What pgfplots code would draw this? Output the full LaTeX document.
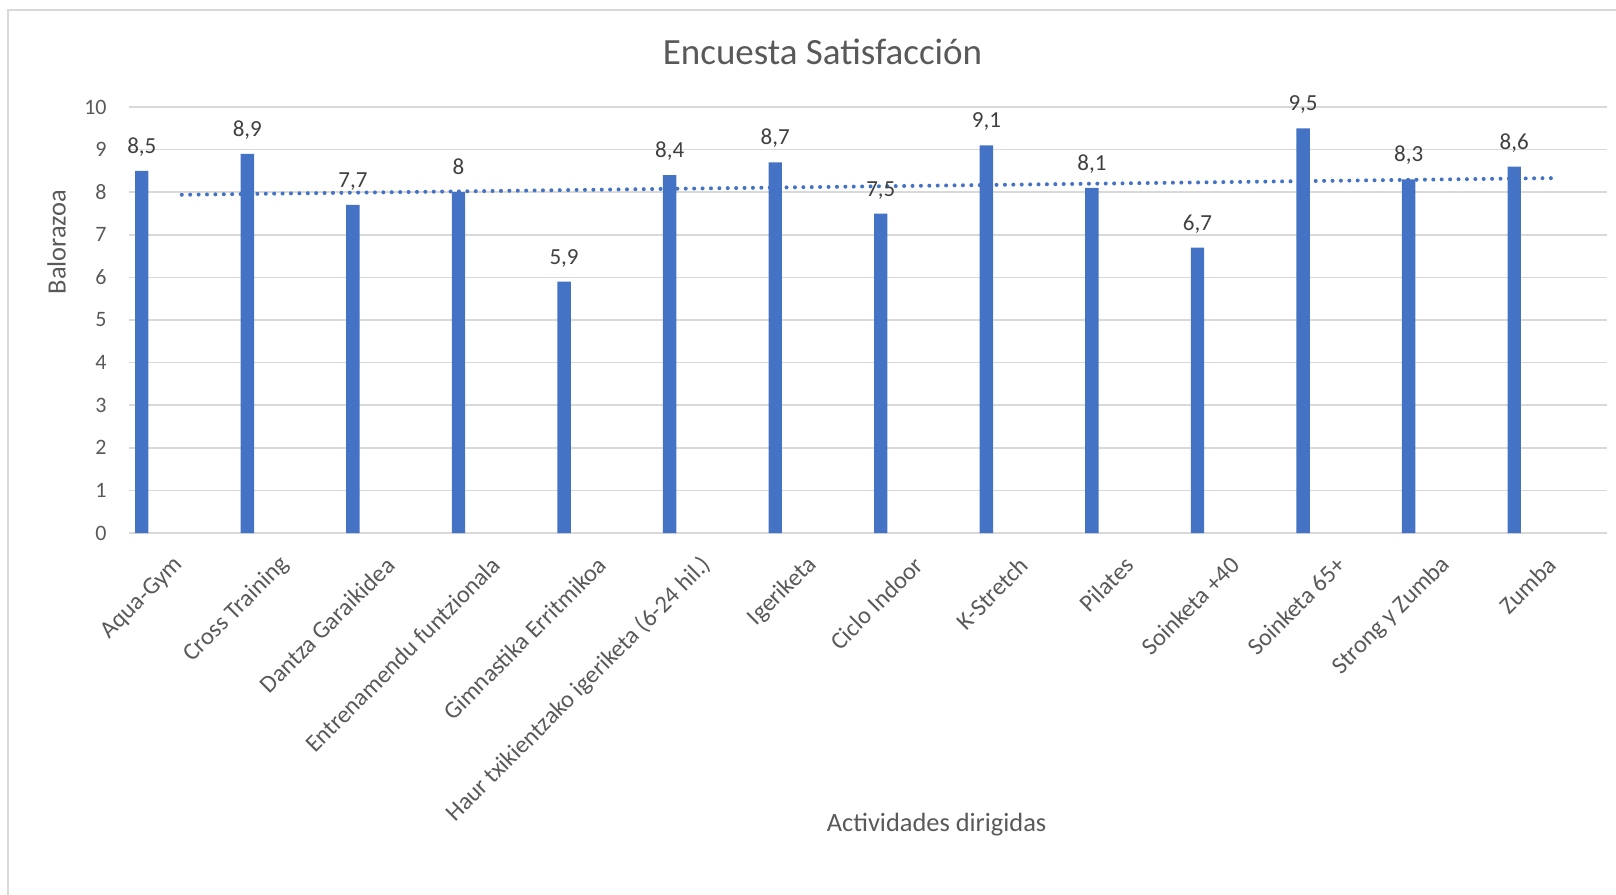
\documentclass[border=0pt]{standalone}
\usepackage{pgfplots}
\pgfplotsset{compat=1.18}
\usepackage{pgfplotstable}
\usepackage{fontspec}
\setmainfont{Carlito}

\definecolor{barblue}{HTML}{4472C4}
\definecolor{gridgray}{HTML}{D9D9D9}
\definecolor{txtgray}{HTML}{595959}
\definecolor{lblgray}{HTML}{404040}

% encuesta: valoracion media por actividad
\pgfplotstableread{
x v
0 8.5
1 8.9
2 7.7
3 8
4 5.9
5 8.4
6 8.7
7 7.5
8 9.1
9 8.1
10 6.7
11 9.5
12 8.3
13 8.6
}\encuesta

\begin{document}
\begin{tikzpicture}
\useasboundingbox (-64.5bp,-181bp) rectangle (743.5bp,266.5bp);
\draw[gridgray, line width=1bp] (-60.5bp,-200bp) -- (-60.5bp,261.25bp) -- (800bp,261.25bp);
\begin{axis}[
  at={(0,0)}, anchor=south west,
  scale only axis, width=739bp, height=213bp,
  xmin=-0.5, xmax=13.5, ymin=0, ymax=10,
  xtick={0,...,13}, ytick={0,...,10},
  xticklabels={Aqua-Gym, Cross Training, Dantza Garaikidea, Entrenamendu funtzionala,
    Gimnastika Erritmikoa, Haur txikientzako igeriketa (6-24 hil.), Igeriketa,
    Ciclo Indoor, K-Stretch, Pilates, Soinketa +40, Soinketa 65+, Strong y Zumba, Zumba},
  axis line style={draw=none}, major tick length=0pt,
  ymajorgrids, grid style={gridgray, line width=0.75bp},
  /pgf/number format/assume math mode=true,
  /pgf/number format/use comma,
  tick label style={font=\fontsize{11bp}{13bp}\selectfont, text=txtgray},
  yticklabel style={anchor=east, inner sep=0pt, xshift=-11bp},
  xticklabel style={font=\fontsize{12.2bp}{14bp}\selectfont, inner sep=0pt, anchor=east,
    xshift=-1bp, yshift=-14bp, rotate=45},
  clip=false,
]
\addplot[ybar, bar width=6.7bp, bar shift=-20bp, fill=barblue, draw=none,
  nodes near coords,
  every node near coord/.append style={anchor=base, inner sep=0pt, xshift=-20bp, yshift=8.75bp,
    font=\fontsize{11.5bp}{13bp}\selectfont, text=lblgray}]
  table[x=x, y=v] {\encuesta};
\addplot[barblue, line width=2bp, line cap=round, dash pattern=on 0pt off 4.2bp, no markers]
  table[x=x, y={create col/linear regression={y=v}}] {\encuesta};
\end{axis}
\node[anchor=base, text=txtgray, font=\fontsize{18.5bp}{22bp}\selectfont] at (346.75bp,234bp) {Encuesta Satisfacción};
\node[anchor=base, text=txtgray, font=\fontsize{13.2bp}{16bp}\selectfont] at (403.8bp,-149.3bp) {Actividades dirigidas};
\node[rotate=90, text=txtgray, font=\fontsize{13.2bp}{16bp}\selectfont] at (-36.25bp,145.5bp) {Balorazoa};
\end{tikzpicture}
\end{document}
